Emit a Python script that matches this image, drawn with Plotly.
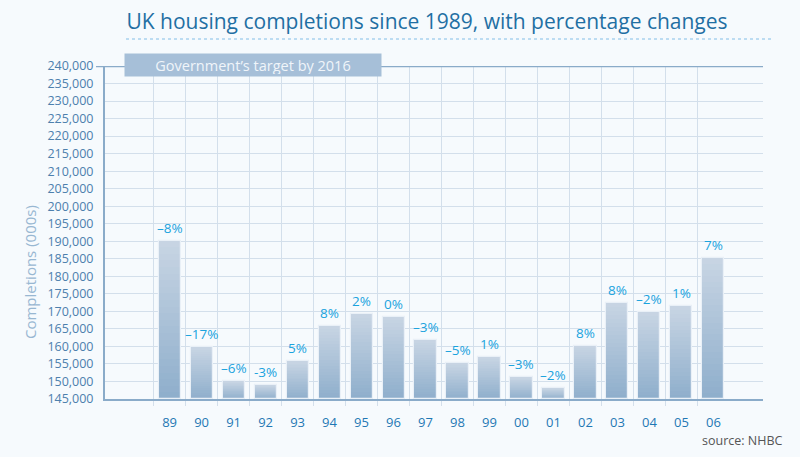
import plotly.graph_objects as go

# ---- data ----
years = ["89", "90", "91", "92", "93", "94", "95", "96", "97", "98",
         "99", "00", "01", "02", "03", "04", "05", "06"]
completions = [190200, 159700, 150000, 149000, 155700, 165800, 169200, 168500, 161700, 155200,
               157100, 151200, 148100, 160200, 172300, 169700, 171400, 185200]
pct_labels = ["–8%", "–17%", "–6%", "-3%", "5%", "8%", "2%", "0%", "–3%", "–5%",
              "1%", "–3%", "–2%", "8%", "8%", "–2%", "1%", "7%"]
y_min, y_max, y_step = 145000, 240000, 5000
target_label = "Government’s target by 2016"
title_text = "UK housing completions since 1989, with percentage changes"
source_text = "source: NHBC"
y_title = "Completions (000s)"

# ---- styling ----
FONT = "Open Sans"
BG = "#f6fafd"
GRID = "#d3dfeb"
AXIS = "#8aabc9"
TOP_C = (200, 213, 228)
BOT_C = (142, 174, 203)
N_SLICES = 24
xr = [-2.02, 18.55]
xpos = list(range(len(years)))
bar_w = 0.69

# page body has an 8px margin, so the figure is 792x449 placed at (8, 8)
W, H = 792, 449
ML, MR, MT, MB = 97, 37, 58, 58
PW, PH = W - ML - MR, H - MT - MB


def px_x(ax):  # absolute page x -> paper fraction
    return (ax - 8 - ML) / PW


def px_y(ay):  # absolute page y -> paper fraction
    return (H - MB - (ay - 8)) / PH


fig = go.Figure()

# gradient bars built from stacked slices
for k in range(N_SLICES):
    t = (k + 0.5) / N_SLICES
    c = tuple(int(round(BOT_C[i] + (TOP_C[i] - BOT_C[i]) * t)) for i in range(3))
    h = [(v - y_min) / N_SLICES for v in completions]
    b = [y_min + k * (v - y_min) / N_SLICES for v in completions]
    fig.add_trace(go.Bar(x=xpos, y=h, base=b, width=bar_w,
                         marker=dict(color="rgb(%d,%d,%d)" % c, line=dict(width=0)),
                         hoverinfo="skip", showlegend=False))
# outline
fig.add_trace(go.Bar(x=xpos, y=[v - y_min for v in completions], base=[y_min] * len(years),
                     width=bar_w,
                     marker=dict(color="rgba(0,0,0,0)", line=dict(color="#e9f0f7", width=1.2)),
                     hoverinfo="skip", showlegend=False))
# invisible trace for label axis
fig.add_trace(go.Scatter(x=xpos, y=completions, xaxis="x2", mode="markers",
                         marker=dict(opacity=0), hoverinfo="skip", showlegend=False))

# percentage labels
for x, v, t in zip(xpos, completions, pct_labels):
    fig.add_annotation(x=x, y=v, text=t, showarrow=False, yanchor="bottom", yshift=2,
                       font=dict(family=FONT, size=13.5, color="#1aa3dd"))

boundaries = [x - 0.5 for x in xpos]

fig.update_layout(
    width=W, height=H,
    margin=dict(l=ML, r=MR, t=MT, b=MB),
    paper_bgcolor=BG, plot_bgcolor=BG,
    barmode="overlay", bargap=0,
    title=dict(text=title_text, x=(427 - 8) / W, xanchor="center", xref="container",
               y=1 - (22 - 8) / H, yanchor="middle",
               font=dict(family=FONT, size=21, color="#1f6fa3")),
    xaxis=dict(range=xr, tickvals=boundaries, ticktext=[""] * len(boundaries),
               showgrid=True, gridcolor=GRID, gridwidth=1.3,
               ticks="outside", ticklen=5, tickcolor=GRID, tickwidth=1.3,
               showline=True, linecolor=AXIS, linewidth=2, zeroline=False),
    xaxis2=dict(range=xr, overlaying="x", side="bottom", tickvals=xpos, ticktext=years,
                showgrid=False, showline=False, zeroline=False, ticks="",
                ticklabelstandoff=14,
                tickfont=dict(family=FONT, size=13, color="#1f78b4")),
    yaxis=dict(range=[y_min, y_max], dtick=y_step, tick0=y_min, tickformat=",d",
               showgrid=True, gridcolor=GRID, gridwidth=1.3,
               showline=True, linecolor=AXIS, linewidth=2, zeroline=False,
               ticks="outside", ticklen=7, tickcolor="rgba(0,0,0,0)",
               tickfont=dict(family=FONT, size=12.5, color="#4d80ad")),
    shapes=[
        dict(type="line", xref="paper", yref="y", x0=-9 / PW, x1=1, y0=y_max, y1=y_max,
             line=dict(color=AXIS, width=2.5)),
        dict(type="line", xref="paper", yref="paper", x0=px_x(126), x1=px_x(771),
             y0=px_y(39), y1=px_y(39),
             line=dict(color="#a9d2ee", width=1.5, dash="dot")),
    ],
)

fig.add_annotation(xref="paper", yref="paper", x=px_x(253), y=px_y(65),
                   text=target_label, showarrow=False, bgcolor="#a6bfd8",
                   width=252, height=18, xanchor="center", yanchor="middle",
                   borderpad=2,
                   font=dict(family=FONT, size=14.5, color="#f0f5fa"))
fig.add_annotation(xref="paper", yref="paper", x=px_x(30), y=px_y(272),
                   text=y_title, textangle=-90, showarrow=False,
                   xanchor="center", yanchor="middle",
                   font=dict(family=FONT, size=15, color="#98b7d2"))
fig.add_annotation(xref="paper", yref="paper", x=px_x(784), y=px_y(440),
                   text=source_text, showarrow=False, xanchor="right", yanchor="middle",
                   font=dict(family=FONT, size=12.5, color="#555555"))

fig.write_html("out.html",
               post_script="document.body.style.background='%s';" % BG)
